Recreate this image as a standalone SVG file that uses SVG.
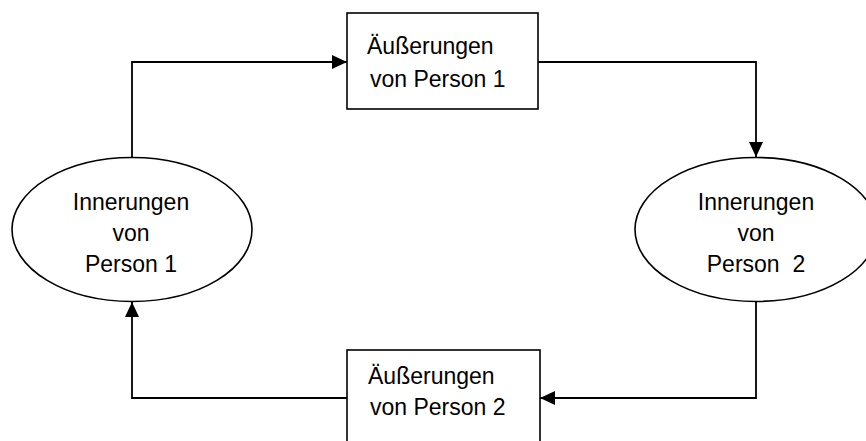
<svg xmlns="http://www.w3.org/2000/svg" width="866" height="441" viewBox="0 0 866 441">
<defs>
<marker id="ah" markerWidth="16" markerHeight="14" refX="15" refY="7" orient="auto" markerUnits="userSpaceOnUse">
<path d="M0,0 L15,7 L0,14 Z" fill="#000"/>
</marker>
<style>
.shape{fill:#fff;stroke:#000;stroke-width:1.6}
.edge{fill:none;stroke:#000;stroke-width:1.8}
text{font-family:"Liberation Sans",Arial,sans-serif;font-size:23px;fill:#000;white-space:pre}
.c{text-anchor:middle}
</style>
</defs>
<rect width="866" height="441" fill="#fff"/>
<g id="connectors">
<path class="edge" d="M132,157 L132,62 L347,62" marker-end="url(#ah)"/>
<path class="edge" d="M538,62 L756,62 L756,157" marker-end="url(#ah)"/>
<path class="edge" d="M756,302 L756,398 L540,398" marker-end="url(#ah)"/>
<path class="edge" d="M347,398 L132,398 L132,302" marker-end="url(#ah)"/>
</g>
<g id="aeusserungen1">
<rect class="shape" x="347" y="13" width="191" height="96"/>
<text x="367" y="54">Äußerungen</text>
<text x="370" y="87">von Person 1</text>
</g>
<g id="aeusserungen2">
<rect class="shape" x="347" y="350" width="193" height="100"/>
<text x="368" y="384">Äußerungen</text>
<text x="370" y="415">von Person 2</text>
</g>
<g id="innerungen1">
<ellipse class="shape" cx="132" cy="229.5" rx="120" ry="72"/>
<text class="c" x="131" y="210">Innerungen</text>
<text class="c" x="131" y="241">von</text>
<text class="c" x="131" y="272">Person 1</text>
</g>
<g id="innerungen2">
<ellipse class="shape" cx="756" cy="229.5" rx="121" ry="72"/>
<text class="c" x="756" y="210">Innerungen</text>
<text class="c" x="756" y="241">von</text>
<text class="c" x="756" y="272" xml:space="preserve">Person  2</text>
</g>
</svg>
